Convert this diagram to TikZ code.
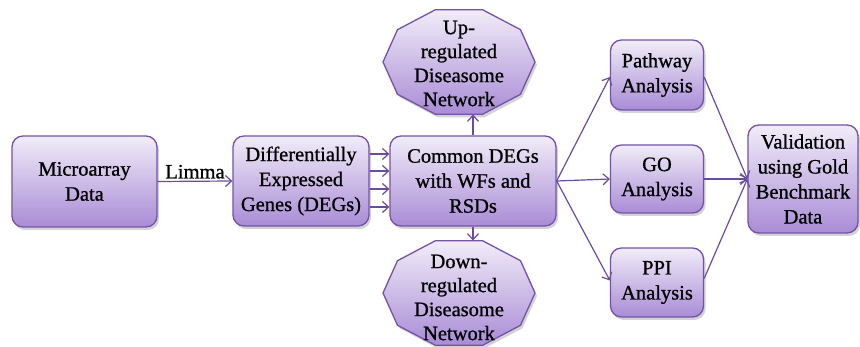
\documentclass[tikz,border=0pt]{standalone}
\usepackage{fontspec}
\setmainfont{Liberation Serif}
\newfontfamily\heavyfam{Liberation Serif}[RawFeature={embolden=0.8}]
\usetikzlibrary{arrows.meta,shadows,calc}
\definecolor{bordc}{HTML}{7452A8}
\definecolor{topc}{HTML}{F1ECF8}
\definecolor{botc}{HTML}{A98CD6}
\definecolor{arrc}{HTML}{6A4B9E}
\begin{document}
\begin{tikzpicture}[x=1pt,y=-1pt,
  shade/.style={draw=bordc, line width=1.3pt, top color=topc, bottom color=botc,
    drop shadow={shadow xshift=2pt, shadow yshift=-3pt, opacity=0.35}},
  box/.style={shade, rounded corners=11pt, inner sep=0pt, align=center,
    font=\heavyfam\fontsize{20.5}{25}\selectfont},
  txt/.style={inner sep=0pt, align=center, font=\heavyfam\fontsize{20.5}{24}\selectfont},
  arr/.style={draw=arrc, line width=1.2pt, -{Straight Barb[length=6pt,width=11pt]}}]
\useasboundingbox (0,0) rectangle (860,347);
% boxes
\node[box, minimum width=145pt, minimum height=91pt] (micro) at (84.5,181.5) {Microarray\\Data};
\node[box, minimum width=136pt, minimum height=90pt] (degs) at (301,181) {Differentially\\Expressed\\Genes (DEGs)};
\node[box, minimum width=166pt, minimum height=90pt] (common) at (473,181) {Common DEGs\\with WFs and\\RSDs};
\node[box, minimum width=93pt, minimum height=70pt] (path) at (657,75) {Pathway\\Analysis};
\node[box, minimum width=93pt, minimum height=68pt] (go) at (657,179) {GO\\Analysis};
\node[box, minimum width=93pt, minimum height=69pt] (ppi) at (657,282.5) {PPI\\Analysis};
\node[box, minimum width=110pt, minimum height=108pt] (valid) at (803,179) {Validation\\using Gold\\Benchmark\\Data};
% decagons
\draw[shade, line join=miter] plot[samples at={0,36,...,324}] ({459+76*cos(\x)},{62+55*sin(\x)}) -- cycle;
\node[txt] (up) at (459,63.5) {Up-\\regulated\\Diseasome\\Network};
\coordinate (upb) at (473,114.5);
\draw[shade, line join=miter] plot[samples at={0,36,...,324}] ({459+76*cos(\x)},{293+55*sin(\x)}) -- cycle;
\node[txt] (down) at (459,297.5) {Down-\\regulated\\Diseasome\\Network};
\coordinate (downt) at (473,240.5);
% connectors
\draw[arr] (micro.east) -- node[above=1pt, font=\heavyfam\fontsize{20.5}{24}\selectfont, inner sep=1pt] (limma) {Limma} (degs.west);
\foreach \d in {-27,-10,8,26}
  \draw[arr] ($(degs.east)+(0,\d)$) -- ($(common.west)+(0,\d)$);
\draw[arr] (common.north) -- (upb);
\draw[arr] (common.south) -- (downt);
\draw[arr] (common.east) -- ($(path.west)+(0,2)$);
\draw[arr] (common.east) -- (go.west);
\draw[arr] (common.east) -- ($(ppi.west)+(0,-2)$);
\draw[arr] ($(path.east)+(0,2)$) -- (valid.west);
\draw[arr] (go.east) -- (valid.west);
\draw[arr] ($(ppi.east)+(0,-4)$) -- (valid.west);
\end{tikzpicture}
\end{document}
